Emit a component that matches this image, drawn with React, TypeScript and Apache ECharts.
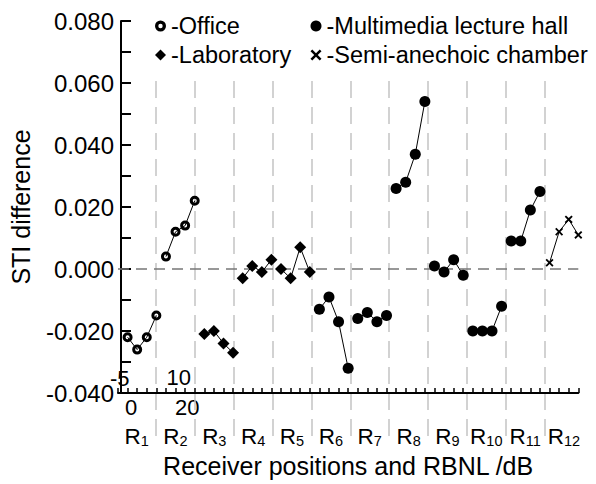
import React, { useEffect, useRef } from 'react';
import * as echarts from 'echarts';

// ---- data ----
const positionNumbers = ['1', '2', '3', '4', '5', '6', '7', '8', '9', '10', '11', '12'];
const pointsPerPosition = 4;

const officeName = 'Office';
const officeGroups = [0, 1];
const officeValues = [
  [-0.022, -0.026, -0.022, -0.015],
  [0.004, 0.012, 0.014, 0.022],
];

const labName = 'Laboratory';
const labGroups = [2, 3, 4];
const labValues = [
  [-0.021, -0.020, -0.024, -0.027],
  [-0.003, 0.001, -0.001, 0.003],
  [0.000, -0.003, 0.007, -0.001],
];

const hallName = 'Multimedia lecture hall';
const hallGroups = [5, 6, 7, 8, 9, 10];
const hallValues = [
  [-0.013, -0.009, -0.017, -0.032],
  [-0.016, -0.014, -0.017, -0.015],
  [0.026, 0.028, 0.037, 0.054],
  [0.001, -0.001, 0.003, -0.002],
  [-0.020, -0.020, -0.020, -0.012],
  [0.009, 0.009, 0.019, 0.025],
];

const chamberName = 'Semi-anechoic chamber';
const chamberGroups = [11];
const chamberValues = [[0.002, 0.012, 0.016, 0.011]];

const yMin = -0.04;
const yMax = 0.08;
const yStep = 0.01;

const strayTopLabels = ['-5', '10'];
const strayBottomLabels = ['0', '20'];

// ---- styles ----
const FONT = '"Liberation Sans", Arial, Helvetica, sans-serif';
const RING = 'path://M5,0A5,5,0,1,1,5,10A5,5,0,1,1,5,0ZM5,3A2,2,0,1,0,5,7A2,2,0,1,0,5,3Z';
const CROSS =
  'path://M0,1.6L1.6,0L5,3.4L8.4,0L10,1.6L6.6,5L10,8.4L8.4,10L5,6.6L1.6,10L0,8.4L3.4,5Z';

function groupSeries(name: string, groups: number[], values: number[][], symbol: string, symbolSize: number) {
  return groups.map((g, k) => ({
    type: 'line',
    name,
    xAxisIndex: 0,
    yAxisIndex: 0,
    symbol,
    symbolSize,
    z: 5,
    itemStyle: { color: '#000', borderWidth: 0 },
    lineStyle: { color: '#000', width: 1 },
    data: values[k].map((v, j) => [g * pointsPerPosition + j, v]),
  }));
}

const legendText = { fontSize: 23.5, color: '#000', fontFamily: FONT };
function legendItem(name: string, icon: string, left: number, top: number) {
  return {
    left,
    top,
    padding: 0,
    itemWidth: 11,
    itemHeight: 11,
    selectedMode: false,
    formatter: '-{name}',
    textStyle: legendText,
    data: [{ name, icon, itemStyle: { color: '#000', borderWidth: 0 } }],
  };
}

export default function App() {
  const ref = useRef<HTMLDivElement>(null);

  useEffect(() => {
    document.body.style.margin = '0';
    const chart = echarts.init(ref.current!, undefined, { renderer: 'svg' });

    const series: any[] = [
      ...groupSeries(officeName, officeGroups, officeValues, RING, 10),
      ...groupSeries(labName, labGroups, labValues, 'diamond', 12),
      ...groupSeries(hallName, hallGroups, hallValues, 'circle', 11),
      ...groupSeries(chamberName, chamberGroups, chamberValues, CROSS, 8),
    ];
    series[0].markLine = {
      silent: true,
      symbol: 'none',
      label: { show: false },
      lineStyle: { color: '#777', width: 1.5, type: [11, 7] },
      data: [{ yAxis: 0 }],
    };

    const option: any = {
      animation: false,
      textStyle: { fontFamily: FONT },
      grid: [
        { left: 112.3, right: 17.7, top: 21, bottom: 91 },
        { left: 117.15, right: 12.6, top: 81, bottom: 46 },
      ],
      legend: [
        legendItem(officeName, RING, 155, 14),
        legendItem(labName, 'diamond', 155, 43),
        legendItem(hallName, 'circle', 310.5, 14),
        legendItem(chamberName, CROSS, 310.5, 43),
      ],
      xAxis: [
        {
          gridIndex: 0,
          type: 'value',
          min: -1,
          max: pointsPerPosition * positionNumbers.length - 1,
          interval: 1,
          axisLine: { show: true, onZero: false, lineStyle: { color: '#000', width: 2 } },
          axisTick: { show: true, inside: true, length: 5, lineStyle: { color: '#000', width: 1.5 } },
          axisLabel: { show: false },
          splitLine: { show: false },
          name: 'Receiver positions and RBNL /dB',
          nameLocation: 'middle',
          nameGap: 60,
          nameTextStyle: { fontSize: 25, color: '#000', fontFamily: FONT },
        },
        {
          gridIndex: 1,
          type: 'category',
          data: positionNumbers,
          boundaryGap: true,
          axisLine: { show: false },
          axisTick: { show: false },
          splitLine: {
            show: true,
            showMinLine: false,
            showMaxLine: false,
            lineStyle: { color: '#c4c4c4', width: 1.5, type: [17, 9] },
          },
          axisLabel: {
            show: true,
            interval: 0,
            margin: -13,
            formatter: (v: string) => `{r|R}{s|${v}}`,
            rich: {
              r: { fontSize: 22.5, color: '#000', fontFamily: FONT },
              s: { fontSize: 14.5, color: '#000', fontFamily: FONT, verticalAlign: 'bottom' },
            },
          },
        },
      ],
      yAxis: [
        {
          gridIndex: 0,
          type: 'value',
          min: yMin,
          max: yMax,
          interval: yStep,
          offset: -3,
          axisLine: { show: true, onZero: false, lineStyle: { color: '#000', width: 2 } },
          axisTick: { show: true, inside: true, length: 10, lineStyle: { color: '#000', width: 2 } },
          axisLabel: {
            margin: 7,
            fontSize: 24,
            color: '#000',
            fontFamily: FONT,
            formatter: (v: number) => (Math.round(v * 100) % 2 === 0 ? v.toFixed(3) : ''),
          },
          splitLine: { show: false },
          name: 'STI difference',
          nameLocation: 'middle',
          nameRotate: 90,
          nameGap: 88,
          nameTextStyle: { fontSize: 25, color: '#000', fontFamily: FONT },
        },
        { gridIndex: 1, type: 'value', show: false, min: 0, max: 1 },
      ],
      graphic: [
        { type: 'text', x: 110, y: 378, style: { text: strayTopLabels[0], fontSize: 22, fontFamily: FONT, fill: '#000', verticalAlign: 'middle' } },
        { type: 'text', x: 166.5, y: 377, style: { text: strayTopLabels[1], fontSize: 22, fontFamily: FONT, fill: '#000', verticalAlign: 'middle' } },
        { type: 'text', x: 125, y: 407, style: { text: strayBottomLabels[0], fontSize: 22, fontFamily: FONT, fill: '#000', verticalAlign: 'middle' } },
        { type: 'text', x: 175, y: 407, style: { text: strayBottomLabels[1], fontSize: 22, fontFamily: FONT, fill: '#000', verticalAlign: 'middle' } },
      ],
      series,
    };

    chart.setOption(option);
    return () => chart.dispose();
  }, []);

  return <div ref={ref} style={{ width: 596, height: 484 }} />;
}
